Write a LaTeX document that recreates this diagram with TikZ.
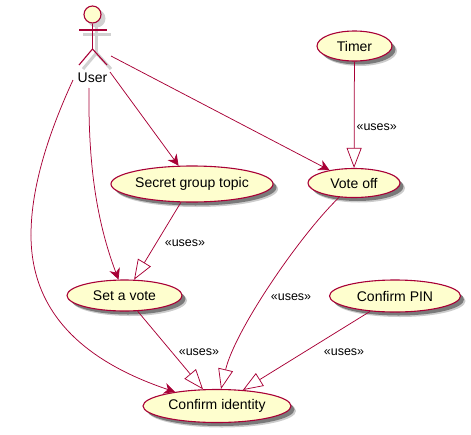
\documentclass[tikz,border=0pt]{standalone}
\usepackage{fontspec}
\setmainfont{Liberation Sans}
\usetikzlibrary{arrows.meta,shapes.geometric,shadows}
\definecolor{umlred}{HTML}{A80036}
\definecolor{umlfill}{HTML}{FEFECE}
\tikzset{
	usecase/.style args={#1/#2}{
		ellipse, draw=umlred, fill=umlfill, line width=1.1pt, inner sep=0pt,
		minimum width=#1, minimum height=#2,
		font=\fontsize{14}{16}\selectfont,
		drop shadow={shadow xshift=5pt, shadow yshift=-5pt, fill=black, opacity=0.2},
		drop shadow={shadow xshift=3.5pt, shadow yshift=-3.5pt, fill=black, opacity=0.4}
	},
	link/.style={umlred, line width=0.75pt},
	assoc/.style={link, -{Stealth[length=11pt, width=11pt, inset=3.5pt]}},
	uses/.style={link, -{Triangle[open, length=20pt, width=15pt, fill=white]}},
	useslabel/.style={font=\fontsize{12.5}{15}\selectfont, inner sep=0pt, text=black}
}
\begin{document}
\begin{tikzpicture}[x=1pt, y=-1pt]
	\useasboundingbox (0,0) rectangle (471,434);
	% actor shadow
	\begin{scope}[shift={(4,4)}, black!18, line width=3pt]
		\fill (92.5,14.5) circle (9);
		\draw (79,30) -- (107,30);
		\draw (92.5,23) -- (92.5,49);
		\draw (79,65) -- (92.5,49) -- (107,65);
	\end{scope}
	% actor
	\node [circle, draw=umlred, fill=umlfill, line width=1.1pt, minimum size=17pt, inner sep=0pt] (head) at (92.5,14.5) {};
	\coordinate (hip) at (92.5,49);
	\draw [umlred, line width=1.1pt] (79,30) -- (107,30);
	\draw [umlred, line width=1.1pt] (head) -- (hip);
	\draw [umlred, line width=1.1pt] (79,65) -- (hip) -- (107,65);
	\node [font=\fontsize{14}{16}\selectfont, inner sep=0pt] (user) at (92.5,78) {User};
	\coordinate (userw) at (73,80);
	\coordinate (users) at (89,88);
	\coordinate (usere) at (110,72);
	\coordinate (userne) at (111,56);
	\coordinate (leftbend) at (31,235);
	% use cases
	\node [usecase=75pt/30pt] (timer) at (354.5,46) {Timer};
	\node [usecase=92pt/29pt] (voteoff) at (354,183) {Vote off};
	\node [usecase=162pt/36pt] (secret) at (192,184) {Secret group topic};
	\node [usecase=115pt/31pt] (setvote) at (124.5,295.5) {Set a vote};
	\node [usecase=131pt/32pt] (pin) at (395,296) {Confirm PIN};
	\node [usecase=148pt/33pt] (confirm) at (217,406) {Confirm identity};
	% links from the user
	\draw [link] (userw) .. controls (50,130) and (31,185) .. (leftbend);
	\draw [assoc] (leftbend) .. controls (31,310) and (80,360) .. (confirm);
	\draw [assoc] (users) .. controls (88,170) and (98,225) .. (setvote);
	\draw [assoc] (usere) -- (secret);
	\draw [assoc] (userne) -- (voteoff);
	% uses links
	\draw [uses] (timer) -- node [useslabel, pos=0.62, right=2pt] (ltimer) {«uses»} (voteoff);
	\draw [uses] (secret) -- (setvote);
	\draw [uses] (voteoff) .. controls (300,235) and (235,330) .. (confirm);
	\draw [uses] (setvote) -- (confirm);
	\draw [uses] (pin) -- (confirm);
	\node [useslabel] (lsecret) at (185,243) {«uses»};
	\node [useslabel] (lvoteoff) at (291,297) {«uses»};
	\node [useslabel] (lsetvote) at (199,352) {«uses»};
	\node [useslabel] (lpin) at (344,352) {«uses»};
\end{tikzpicture}
\end{document}
